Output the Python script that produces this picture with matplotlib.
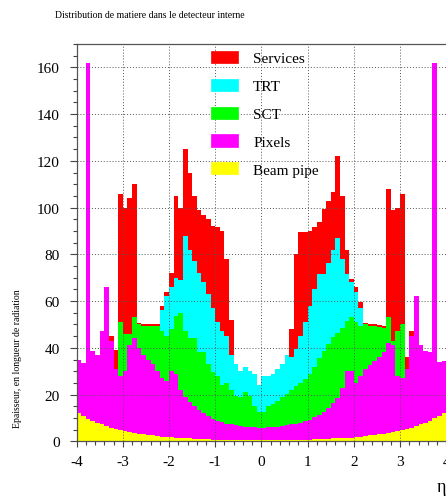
import numpy as np
import matplotlib
matplotlib.use("Agg")
import matplotlib.pyplot as plt
from matplotlib.patches import Patch
from matplotlib.ticker import MultipleLocator

# ---- data: cumulative thickness (X0) read at the top of each stacked layer,
# bins of width 0.1 in eta from -4 to 4 (centres -3.95 ... 3.95)
eta_edges = np.round(np.linspace(-4.0, 4.0, 81), 2)

beam_top = [
    12.0, 10.8, 9.7, 8.8, 8.0, 7.2, 6.5, 5.9, 5.4, 4.9,
    4.4, 4.0, 3.6, 3.3, 3.0, 2.7, 2.5, 2.2, 2.0, 1.8,
    1.7, 1.5, 1.4, 1.3, 1.2, 1.1, 1.0, 0.9, 0.8, 0.75,
    0.7, 0.65, 0.6, 0.57, 0.54, 0.52, 0.5, 0.48, 0.47, 0.46,
    0.46, 0.47, 0.48, 0.5, 0.52, 0.54, 0.57, 0.6, 0.65, 0.7,
    0.75, 0.8, 0.9, 1.0, 1.1, 1.2, 1.3, 1.4, 1.5, 1.6,
    1.8, 2.0, 2.2, 2.5, 2.7, 3.0, 3.3, 3.6, 4.0, 4.4,
    4.8, 5.3, 5.9, 6.5, 7.2, 8.0, 8.9, 9.8, 10.9, 12.2,
]

pixels_top = [
    34.8, 33.5, 162, 38.5, 37, 47, 66, 43, 31, 28,
    30, 41, 44, 40, 37, 35, 33, 30, 27, 26,
    30, 29, 22, 19, 17, 15, 13.5, 12, 11, 9.5,
    8.8, 8.2, 7.6, 7.2, 6.9, 6.6, 6.3, 6.1, 6.0, 5.9,
    5.9, 6.0, 6.1, 6.3, 6.5, 6.8, 7.2, 7.6, 8.0, 8.6,
    9.3, 10.2, 11.3, 12.6, 14.2, 16.2, 18.5, 23, 30, 30,
    25, 28, 31, 32.5, 34.5, 36, 38, 42, 41, 28,
    27, 31, 45, 62, 41, 38.7, 38, 162, 34, 34.5,
]

sct_top = [
    34.8, 33.5, 162, 38.5, 37, 47, 66, 43, 31, 51,
    46, 46, 53, 50, 49.5, 49.5, 49.5, 49.5, 47, 45,
    48, 53.5, 55, 47, 44, 44, 38, 38, 33, 29.5,
    28, 24, 25, 22, 19.5, 18.8, 21, 19.5, 15, 12.5,
    12.4, 15.2, 16, 17.4, 18.8, 20.2, 22, 23.5, 25, 26.5,
    29, 32, 35.5, 38.5, 41.5, 44.5, 46.5, 48.5, 51.5, 53,
    51, 49.5, 50, 49.5, 49.5, 49, 48.5, 53, 43, 47,
    50, 31, 45, 62, 41, 38.7, 38, 162, 34, 34.5,
]

trt_top = [
    34.8, 33.5, 162, 38.5, 37, 47, 66, 43, 31, 51,
    46, 46, 53, 50, 49.5, 49.5, 49.5, 49.5, 56, 62,
    66, 70, 69, 88, 82, 77, 72, 68, 63, 57,
    51, 47, 45, 37, 33, 30, 32, 30, 29, 24,
    28, 28, 29, 31, 33, 37, 36, 39.5, 45, 51,
    58, 65, 71.5, 71.5, 76.5, 82, 87, 78, 71.5, 68,
    64, 57, 50, 49.5, 49.5, 49, 48.5, 53, 43, 47,
    50, 31, 45, 62, 41, 38.7, 38, 162, 34, 34.5,
]

services_top = [
    34.8, 33.5, 162, 38.5, 37, 47, 66, 45, 39, 106,
    100, 104, 110, 50.5, 50.3, 50.3, 50.3, 50.3, 58, 64,
    72, 105, 100, 125, 115, 105, 99, 97, 95, 92,
    91.5, 90, 78, 52, 33, 30, 32, 30, 29, 24,
    28, 28, 29, 31, 33, 37, 48, 80, 89.4, 89.4,
    90, 91.5, 93.7, 99.4, 103, 106.5, 122, 105, 82, 69.5,
    66, 59.5, 50.8, 50.3, 50.3, 49.8, 49.3, 108, 99, 100,
    106, 36, 47, 62, 41, 38.7, 38, 162, 34, 34.5,
]

labels = ["Services", "TRT", "SCT", "Pixels", "Beam pipe"]
colors = ["#ff0000", "#00ffff", "#00ff00", "#ff00ff", "#ffff00"]

x_ticks = [-4, -3, -2, -1, 0, 1, 2, 3, 4]
y_ticks = [0, 20, 40, 60, 80, 100, 120, 140, 160]

# ---- figure
W, H = 446, 502
fig = plt.figure(figsize=(W / 100, H / 100), dpi=100)
fig.patch.set_facecolor("white")
serif = ["Liberation Serif", "DejaVu Serif"]

ax = fig.add_axes([76.6 / W, 1 - 442.3 / H, (446.3 - 76.6) / W, (442.3 - 45) / H])

layers = [
    (np.zeros(len(beam_top)), beam_top, colors[4]),
    (beam_top, pixels_top, colors[3]),
    (pixels_top, sct_top, colors[2]),
    (sct_top, trt_top, colors[1]),
    (trt_top, services_top, colors[0]),
]
for base, top, c in layers:
    ax.stairs(np.asarray(top, float), eta_edges, baseline=np.asarray(base, float),
              fill=True, color=c, lw=0, zorder=2)

ax.set_xlim(-4, 4)
ax.set_ylim(0, 170)
ax.set_xticks(x_ticks)
ax.set_yticks(y_ticks)
ax.xaxis.set_minor_locator(MultipleLocator(0.2))
ax.yaxis.set_minor_locator(MultipleLocator(5))
ax.set_xticklabels([str(v) for v in x_ticks], fontfamily=serif, fontsize=11)
ax.set_yticklabels([str(v) for v in y_ticks], fontfamily=serif, fontsize=11)
ax.tick_params(axis="y", which="major", direction="out", length=5, width=0.8,
               pad=7, color="#444444")
ax.tick_params(axis="y", which="minor", direction="out", length=3, width=0.8,
               color="#444444")
ax.tick_params(axis="x", which="major", direction="out", length=4, width=0.8,
               pad=6, color="#444444")
ax.tick_params(axis="x", which="minor", direction="out", length=3, width=0.8,
               color="#444444")

ax.grid(True, which="major", color="#555555", lw=0.7, linestyle=(0, (1, 2)), zorder=3)
ax.set_axisbelow(False)
for s in ["left", "bottom", "top"]:
    ax.spines[s].set_color("#555555")
    ax.spines[s].set_linewidth(0.9)
ax.spines["right"].set_visible(False)

handles = [Patch(facecolor=c, edgecolor=c, lw=0.5) for c in colors]
leg = ax.legend(handles, labels, loc="upper left",
                bbox_to_anchor=((211 - 76.6) / (446.3 - 76.6), (442.3 - 52) / (442.3 - 45)),
                frameon=False, borderpad=0, borderaxespad=0,
                handlelength=1.76, handleheight=0.85, handletextpad=1.0,
                labelspacing=0.88, prop={"family": serif, "size": 11})
leg.set_zorder(5)

fig.text(55 / W, 1 - 15 / H, "Distribution de matiere dans le detecteur interne",
         fontfamily=serif, fontsize=7, ha="left", va="center")
fig.text(18 / W, 1 - 428 / H, "Epaisseur, en longueur de radiation",
         fontfamily=serif, fontsize=7, rotation=90, ha="center", va="bottom")
fig.text(441 / W, 1 - 488 / H, "\u03b7", fontfamily=serif, fontsize=13,
         ha="center", va="center")

fig.savefig("out.png", dpi=100)
